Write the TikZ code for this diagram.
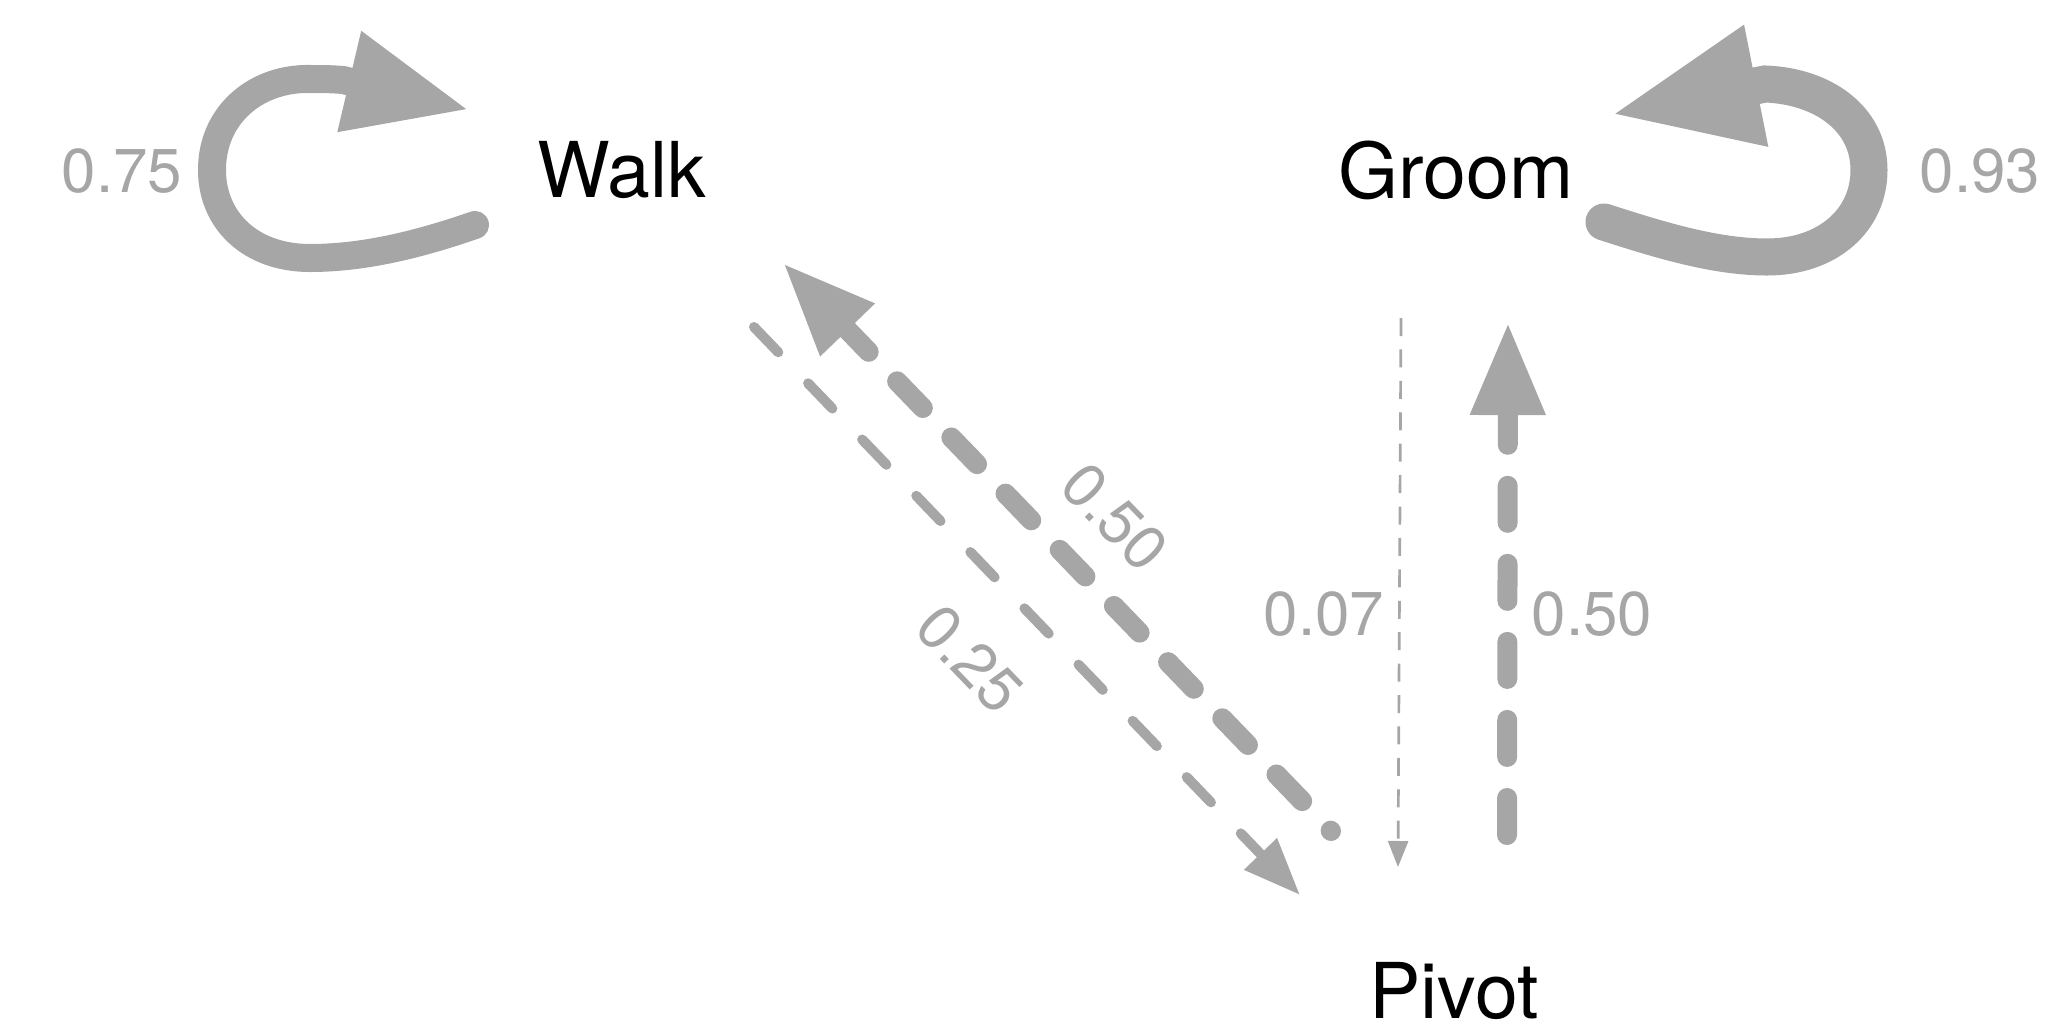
\documentclass[tikz,border=0pt]{standalone}
\usepackage{fontspec}
\setmainfont{TeX Gyre Heros}
\usetikzlibrary{arrows.meta}

\definecolor{edgegray}{HTML}{A6A6A6}

\begin{document}
\begin{tikzpicture}[x=0.01cm, y=0.01cm,
    state/.style={font=\fontsize{21.9}{26}\selectfont, text=black, inner sep=0pt, anchor=base},
    prob/.style={font=\fontsize{17.6}{21}\selectfont, text=edgegray, inner sep=0pt},
    edge/.style={draw=edgegray, line cap=round}]
  \useasboundingbox (0,0) rectangle (2047,-1030);

  % Define the states
  \node[state] (walk)  at (622,-197)  {Walk};
  \node[state] (groom) at (1456,-198) {Groom};
  \node[state] (pivot) at (1454,-1018) {Pivot};

  % Define the end points of the transitions
  \coordinate (W1) at (475,-225);
  \coordinate (W2) at (470,-110);
  \coordinate (W3) at (754,-327);
  \coordinate (W4) at (783,-263);
  \coordinate (G1) at (1604,-222);
  \coordinate (G2) at (1609,-115);
  \coordinate (G3) at (1401,-318);
  \coordinate (G4) at (1508,-322);
  \coordinate (P1) at (1300,-895);
  \coordinate (P2) at (1331,-831);
  \coordinate (P3) at (1398,-867);
  \coordinate (P4) at (1507,-835);

  % Self loops
  \draw[edge, line width=0.28cm, -{Triangle[length=1.24cm, width=0.95cm]}]
    (W1) .. controls (420,-244) and (365,-258) .. (310,-258)
         .. controls (250,-258) and (212,-220) .. (212,-170)
         .. controls (212,-115) and (255,-80) .. (305,-79)
         .. controls (320,-79) and (332,-79) .. (343,-80) -- (W2);
  \draw[edge, line width=0.37cm, -{Triangle[length=1.50cm, width=1.12cm]}]
    (G1) .. controls (1660,-240) and (1715,-257) .. (1767,-257)
         .. controls (1828,-257) and (1869,-220) .. (1869,-170)
         .. controls (1869,-118) and (1822,-86) .. (1765,-84) -- (G2);

  % Transitions between the states
  \draw[edge, line width=0.1cm, dash pattern=on 0.35cm off 0.43cm,
    -{Triangle[length=0.57cm, width=0.43cm]}] (W3) -- (P1);
  \draw[edge, line width=0.2cm, dash pattern=on 0.37cm off 0.41cm, dash phase=0.365cm,
    -{Triangle[length=0.93cm, width=0.70cm]}] (P2) -- (W4);
  \draw[edge, line width=0.027cm, line cap=butt, dash pattern=on 0.18cm off 0.134cm,
    -{Triangle[length=0.26cm, width=0.20cm]}] (G3) -- (P3);
  \draw[edge, line width=0.2cm, dash pattern=on 0.37cm off 0.41cm,
    -{Triangle[length=0.93cm, width=0.70cm]}] (P4) -- (G4);

  % Transition probabilities
  \node[prob, anchor=base] (ww) at (122,-192)  {0.75};
  \node[prob, anchor=base] (gg) at (1980,-192) {0.93};
  \node[prob, anchor=base] (gp) at (1324,-635) {0.07};
  \node[prob, anchor=base] (pg) at (1592,-635) {0.50};
  \node[prob, rotate=-46] (pw) at (1115,-517) {0.50};
  \node[prob, rotate=-46] (wp) at (970,-659)  {0.25};

\end{tikzpicture}
\end{document}
